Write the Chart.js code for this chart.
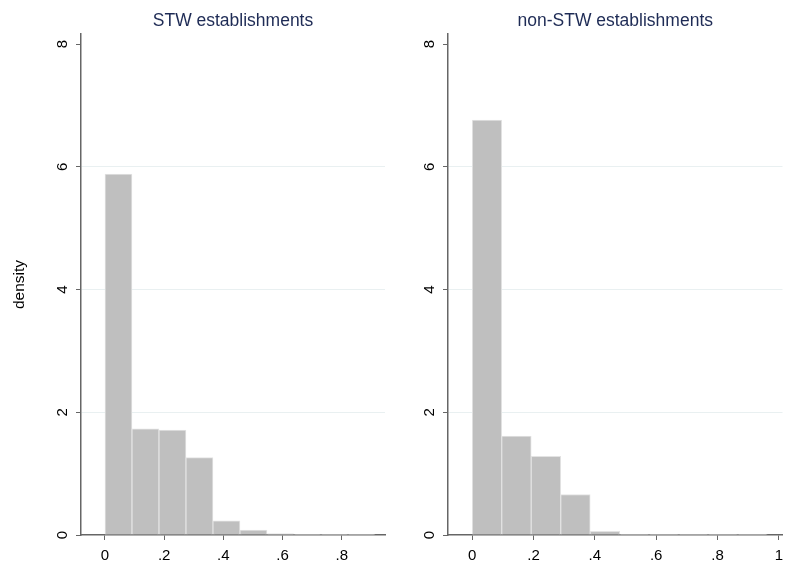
<!DOCTYPE html>
<html>
<head>
<meta charset="utf-8">
<script src="https://cdn.jsdelivr.net/npm/chart.js@4.4.1/dist/chart.umd.min.js"></script>
<style>
  html, body { margin: 0; padding: 0; background: #fff; }
  #wrap { position: relative; width: 790px; height: 568px; }
  .panel { position: absolute; top: 0; width: 395px; height: 568px; }
  #left-panel { left: 0; }
  #right-panel { left: 395px; }
</style>
</head>
<body>
<div id="wrap">
  <div class="panel" id="left-panel"><canvas id="stw-chart"></canvas></div>
  <div class="panel" id="right-panel"><canvas id="nonstw-chart"></canvas></div>
</div>
<script>
// histogram bins (midpoints) and densities
const stwBinMids = [0.0456, 0.1368, 0.2280, 0.3192, 0.4104, 0.5016, 0.5928, 0.6840, 0.7752, 0.8664];
const stwDensity = [5.88, 1.73, 1.71, 1.26, 0.23, 0.08, 0.02, 0.01, 0.006, 0.006];

const nonStwBinMids = [0.0481, 0.1443, 0.2405, 0.3367, 0.4329, 0.5291, 0.6253, 0.7215, 0.8177, 0.9139];
const nonStwDensity = [6.76, 1.61, 1.28, 0.66, 0.06, 0.01, 0.006, 0.005, 0.004, 0.004];

const yTicks = [0, 2, 4, 6, 8];
const stwXTicks = [0, 0.2, 0.4, 0.6, 0.8];
const nonStwXTicks = [0, 0.2, 0.4, 0.6, 0.8, 1];

Chart.defaults.font.family = "'Liberation Sans', Arial, sans-serif";
Chart.defaults.color = "#000";

const AXIS_COLOR = "#666";
const GRID_COLOR = "#e9f0f1";

function fmtTick(v) {
  // stata style: .2 instead of 0.2
  if (v === 0 || v === 1) return String(v);
  return String(Number(v.toFixed(2))).replace(/^0\./, ".");
}

// subtitle centred over the plot region (stata by() style), not the whole canvas
const panelTitle = {
  id: "panelTitle",
  afterDraw(chart, args, opts) {
    const { ctx, chartArea } = chart;
    ctx.save();
    ctx.font = "17.5px 'Liberation Sans', Arial, sans-serif";
    ctx.fillStyle = "#1e2b55";
    ctx.textAlign = "center";
    ctx.textBaseline = "middle";
    ctx.fillText(opts.text, (chartArea.left + chartArea.right) / 2, 21.2);
    ctx.restore();
  },
};

function makeChart(canvasId, title, mids, dens, xTicks, opts) {
  const ctx = document.getElementById(canvasId);
  const points = mids.map((m, i) => ({ x: m, y: dens[i] }));
  return new Chart(ctx, {
    type: "bar",
    data: {
      datasets: [
        {
          data: points,
          backgroundColor: "#bfbfbf",
          borderColor: "#e3e3e3",
          borderWidth: 1,
          barPercentage: 1,
          categoryPercentage: 1,
        },
      ],
    },
    plugins: [panelTitle],
    options: {
      responsive: true,
      maintainAspectRatio: false,
      animation: false,
      layout: {
        autoPadding: false,
        padding: { left: 0, right: opts.padRight, top: 34, bottom: 0 },
      },
      plugins: {
        legend: { display: false },
        tooltip: { enabled: false },
        title: { display: false },
        panelTitle: { text: title },
      },
      scales: {
        x: {
          type: "linear",
          min: opts.xMin,
          max: opts.xMax,
          offset: false,
          afterBuildTicks: (scale) => {
            scale.ticks = xTicks.map((v) => ({ value: v }));
          },
          afterFit: (scale) => {
            scale.height = 33;
          },
          grid: {
            offset: false,
            drawOnChartArea: false,
            tickLength: 5,
            tickColor: AXIS_COLOR,
          },
          border: { color: AXIS_COLOR, width: 1.5 },
          ticks: {
            padding: 7,
            maxRotation: 0,
            autoSkip: false,
            font: { size: 15 },
            callback: (v) => fmtTick(v),
          },
        },
        y: {
          min: 0,
          max: 8.163,
          afterBuildTicks: (scale) => {
            scale.ticks = yTicks.map((v) => ({ value: v }));
          },
          afterFit: (scale) => {
            scale.width = opts.yWidth;
          },
          grid: {
            tickLength: 5,
            tickColor: AXIS_COLOR,
            color: (c) =>
              c.tick && c.tick.value > 0 && c.tick.value < 8 ? GRID_COLOR : "rgba(0,0,0,0)",
          },
          border: { color: AXIS_COLOR, width: 1.5 },
          ticks: {
            minRotation: 90,
            maxRotation: 90,
            crossAlign: "center",
            padding: 9,
            font: { size: 15 },
            callback: (v) => String(v),
          },
          title: {
            display: opts.showYTitle,
            text: "density",
            font: { size: 15.5 },
            padding: { top: 10.7, bottom: 0 },
          },
        },
      },
    },
  });
}

makeChart("stw-chart", "STW establishments", stwBinMids, stwDensity, stwXTicks, {
  xMin: -0.081,
  xMax: 0.946,
  yWidth: 81,
  padRight: 10,
  showYTitle: true,
});

makeChart("nonstw-chart", "non-STW establishments", nonStwBinMids, nonStwDensity, nonStwXTicks, {
  xMin: -0.079,
  xMax: 1.012,
  yWidth: 53,
  padRight: 2,
  showYTitle: false,
});
</script>
</body>
</html>
